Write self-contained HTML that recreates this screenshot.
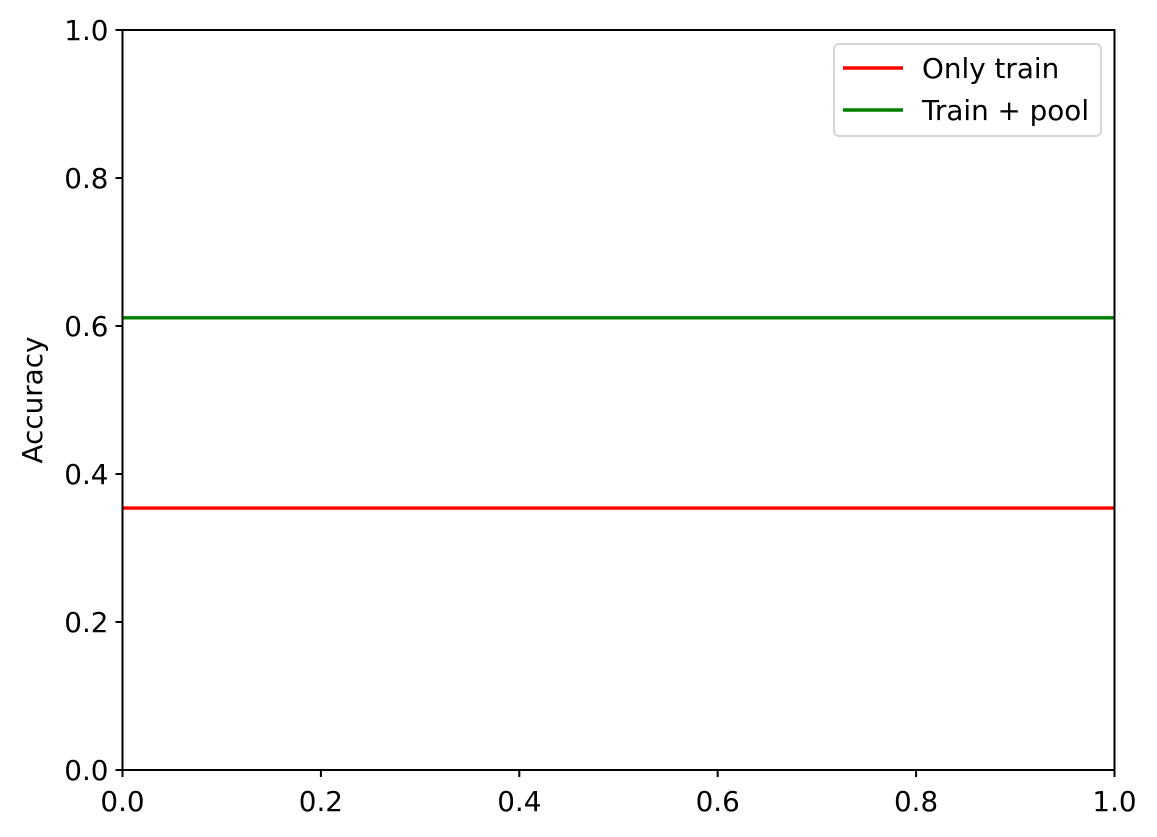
<!DOCTYPE html>
<html><head><meta charset="utf-8"><style>
html,body{margin:0;padding:0;background:#fff;}
svg{display:block;font-family:"DejaVu Sans","Liberation Sans",sans-serif;}
</style></head><body>
<svg id="chart" width="1157" height="837"></svg>
<script>
const xTicks = [0.0, 0.2, 0.4, 0.6, 0.8, 1.0];
const yTicks = [0.0, 0.2, 0.4, 0.6, 0.8, 1.0];
const seriesNames = ["Only train", "Train + pool"];
const seriesColors = ["#ff0000", "#008000"];
const seriesValues = [0.354, 0.611];

const L = 122.5, R = 1114.5, T = 30, B = 770;
const sx = v => L + (R - L) * v;
const sy = v => B - (B - T) * v;
const NS = "http://www.w3.org/2000/svg";
const svg = document.getElementById('chart');
function mk(tag, attrs, parent) {
  const e = document.createElementNS(NS, tag);
  for (const k in attrs) e.setAttribute(k, attrs[k]);
  (parent || svg).appendChild(e);
  return e;
}
const FS = 27.8;
// series
seriesValues.forEach((v, i) => {
  const ln = mk('line', {x1: sx(0), x2: sx(1), y1: sy(v), y2: sy(v), stroke: seriesColors[i], 'stroke-width': 3.4});
  
  
});
// axes frame
const frame = mk('rect', {x: L, y: T, width: R - L, height: B - T, fill: 'none', stroke: '#000', 'stroke-width': 2});


// x ticks
xTicks.forEach(v => {
  mk('line', {x1: sx(v), x2: sx(v), y1: B, y2: B + 7, stroke: '#000', 'stroke-width': 2});
  const t = mk('text', {x: sx(v), y: B + 41, 'text-anchor': 'middle', 'font-size': FS, fill: '#000'});
  t.textContent = v.toFixed(1);
  
  
});
// y ticks
yTicks.forEach(v => {
  mk('line', {x1: L - 7, x2: L, y1: sy(v), y2: sy(v), stroke: '#000', 'stroke-width': 2});
  const t = mk('text', {x: L - 14, y: sy(v) + 10, 'text-anchor': 'end', 'font-size': FS, fill: '#000'});
  t.textContent = v.toFixed(1);
  
  
});
// y title
const yt = mk('text', {x: 0, y: 0, 'text-anchor': 'middle', 'font-size': FS, fill: '#000', transform: 'translate(42,' + ((T + B) / 2) + ') rotate(-90)'});
yt.textContent = 'Accuracy';


// legend
const lg = mk('g', {});


mk('rect', {x: 834, y: 44, width: 267, height: 92, rx: 5, fill: '#fff', stroke: '#d6d6d6', 'stroke-width': 2}, lg);
seriesNames.forEach((n, i) => {
  const y = 68 + i * 42;
  const g = mk('g', {}, lg);
  
  
  mk('line', {x1: 843, x2: 903, y1: y, y2: y, stroke: seriesColors[i], 'stroke-width': 3.4}, g);
  const t = mk('text', {x: 922, y: y + 10, 'font-size': FS, fill: '#000'}, g);
  t.textContent = n;
});
</script>
</body></html>
